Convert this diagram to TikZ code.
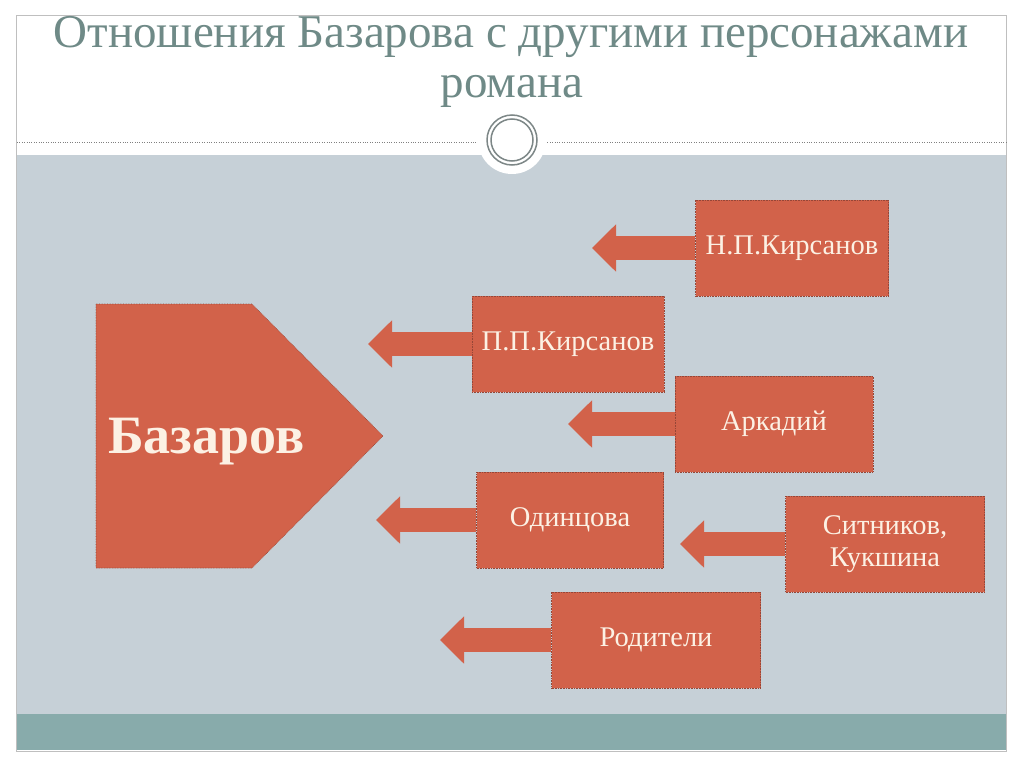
\documentclass[tikz,border=0pt]{standalone}
\usepackage{fontspec}
\setmainfont{Liberation Serif}
\usetikzlibrary{arrows.meta}
\definecolor{panel}{RGB}{198,208,215}
\definecolor{band}{RGB}{136,171,171}
\definecolor{brick}{RGB}{210,98,74}
\definecolor{brickedge}{RGB}{150,70,55}
\definecolor{cream}{RGB}{252,241,228}
\definecolor{titlegray}{RGB}{111,138,135}
\definecolor{ring}{RGB}{125,135,135}
\begin{document}
\begin{tikzpicture}[x=1pt,y=-1pt,
 box/.style={fill=brick,draw=brickedge,densely dotted,line width=.6pt,text=cream,font=\fontsize{28.5}{32}\selectfont,align=center,minimum height=96pt,inner sep=0pt},
 pointer/.style={draw=brick,line width=24pt,-{Triangle[length=24pt,width=46pt]}}]
\useasboundingbox[fill=white](0,0)rectangle(1024,768);
\fill[panel](17,155)rectangle(1006,714);\fill[band](17,714)rectangle(1006,750);
\draw[gray!50,line width=1pt](16,16)rectangle(1006,751);
\draw[gray,dotted](17,142)--(1006,142);
\fill[white](512,140)circle(34);\draw[ring,line width=1.5pt](512,140)circle(25)(512,140)circle(21);
\node[text=titlegray,font=\fontsize{47}{50}\selectfont,anchor=base](title)at(511,48){Отношения Базарова с другими персонажами};
\node[text=titlegray,font=\fontsize{47}{50}\selectfont,anchor=base](titletwo)at(512,97){романа};
\fill[brick,draw=brickedge,densely dotted,line width=.6pt](96,304)--(252,304)--(383,436)--(252,568)--(96,568)--cycle;
\node[text=cream,font=\bfseries\fontsize{54}{56}\selectfont,anchor=base west,inner sep=0pt](baz)at(108,453){Базаров};
\foreach\n/\x/\y/\w/\tx/\t in{np/792/248/193/592/Н.П.Кирсанов,pp/568/344/192/368/П.П.Кирсанов,ark/774/424/198/568/Аркадий,od/570/520/187/376/Одинцова,sk/885/544/199/680/{Ситников,\\Кукшина},rod/656/640/209/440/Родители}{\node[box,minimum width=\w pt](\n)at(\x,\y){\t};\coordinate(\n tip)at(\tx,\y);\draw[pointer](\n)--(\n tip);}
\end{tikzpicture}
\end{document}
